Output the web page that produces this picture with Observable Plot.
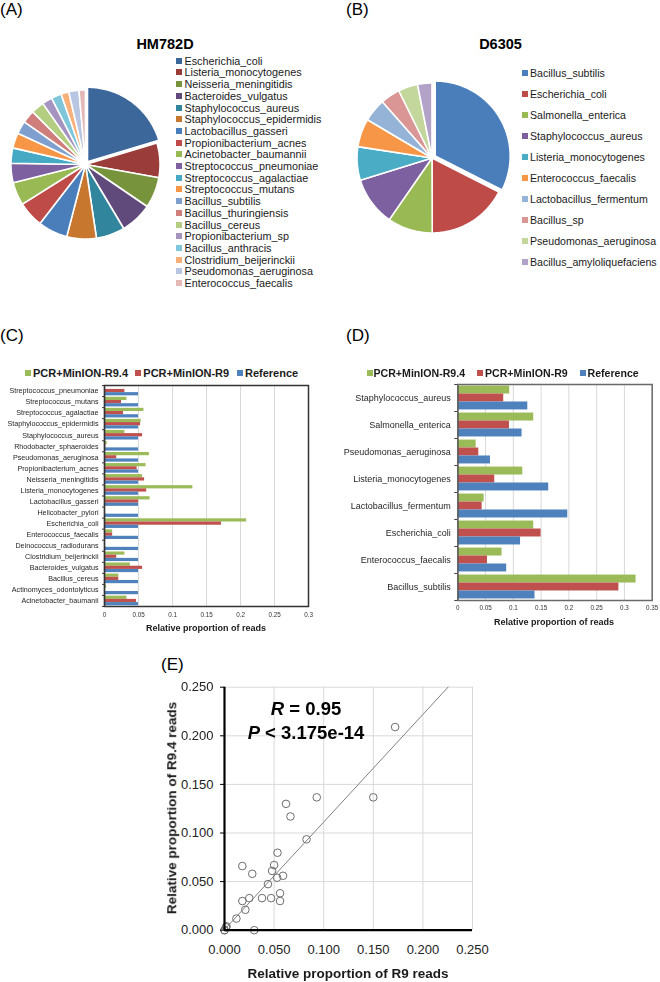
<!DOCTYPE html>
<html><head><meta charset="utf-8">
<script src="https://cdn.jsdelivr.net/npm/d3@7"></script>
<script src="https://cdn.jsdelivr.net/npm/@observablehq/plot@0.6"></script>
<style>
body{margin:0;background:#fff;}
#root{position:relative;width:660px;height:982px;overflow:hidden;background:#fff;font-family:"Liberation Sans",Arial,Helvetica,sans-serif;color:#000;}
#root div{white-space:nowrap;}
.gray-aa{will-change:transform;transform:translateZ(0);}
</style></head><body><div id="root"></div>
<script>
const FONT = '"Liberation Sans", Arial, Helvetica, sans-serif';

// ---------- Panel A (pie HM782D) ----------
const pieANames = ["Escherichia_coli","Listeria_monocytogenes","Neisseria_meningitidis","Bacteroides_vulgatus","Staphylococcus_aureus","Staphylococcus_epidermidis","Lactobacillus_gasseri","Propionibacterium_acnes","Acinetobacter_baumannii","Streptococcus_pneumoniae","Streptococcus_agalactiae","Streptococcus_mutans","Bacillus_subtilis","Bacillus_thuringiensis","Bacillus_cereus","Propionibacterium_sp","Bacillus_anthracis","Clostridium_beijerinckii","Pseudomonas_aeruginosa","Enterococcus_faecalis"];
const pieAValues = [20.3,7.5,6.7,6.9,6.2,6.4,6.4,5.6,5.0,4.2,3.3,3.3,2.8,2.8,2.8,2.2,2.2,1.7,2.2,1.4];
const pieAColors = ["#3C679A","#9A3D3A","#77933C","#604A7B","#31859C","#C8772F","#4A7EBB","#BE4B48","#98B954","#7D60A0","#46AAC5","#F79646","#7F9FCF","#D07E7C","#B3CE81","#A593C0","#7FC6DB","#F8B07A","#B8C6E2","#E3B8B7"];

// ---------- Panel B (pie D6305) ----------
const pieBNames = ["Bacillus_subtilis","Escherichia_coli","Salmonella_enterica","Staphylococcus_aureus","Listeria_monocytogenes","Enterococcus_faecalis","Lactobacillus_fermentum","Bacillus_sp","Pseudomonas_aeruginosa","Bacillus_amyloliquefaciens"];
const pieBValues = [32.5,17.5,9.7,10.6,7.2,6.1,5.0,4.2,4.2,3.1];
const pieBColors = ["#4A7EBB","#BE4B48","#98B954","#7D60A0","#4BACC6","#F79646","#95B3D7","#D99694","#C3D69B","#B3A2C7"];

// ---------- Bars: series ----------
const seriesNames = ["PCR+MinION-R9.4","PCR+MinION-R9","Reference"];
const seriesColors = ["#9BBB59","#C0504D","#4F81BD"];

// ---------- Panel C (top to bottom) ----------
const cCats = ["Streptococcus_pneumoniae","Streptococcus_mutans","Streptococcus_agalactiae","Staphylococcus_epidermidis","Staphylococcus_aureus","Rhodobacter_sphaeroides","Pseudomonas_aeruginosa","Propionibacterium_acnes","Neisseria_meningitidis","Listeria_monocytogenes","Lactobacillus_gasseri","Helicobacter_pylori","Escherichia_coli","Enterococcus_faecalis","Deinococcus_radiodurans","Clostridium_beijerinckii","Bacteroides_vulgatus","Bacillus_cereus","Actinomyces_odontolyticus","Acinetobacter_baumanii"];
const cR94 = [0,0.033,0.058,0.054,0.030,0.004,0.066,0.061,0.056,0.130,0.067,0,0.209,0.012,0,0.030,0.038,0.021,0.003,0.033];
const cR9  = [0.030,0.025,0.028,0.053,0.056,0.002,0.018,0.048,0.059,0.062,0.050,0,0.172,0.012,0,0.018,0.056,0.021,0.0015,0.047];
const cRef = [0.05,0.05,0.05,0.05,0.05,0.05,0.05,0.05,0.05,0.05,0.05,0.05,0.05,0.05,0.05,0.05,0.05,0.05,0.05,0.05];
const cTicks = [0,0.05,0.1,0.15,0.2,0.25,0.3];
const cTickLabels = ["0","0.05","0.1","0.15","0.2","0.25","0.3"];

// ---------- Panel D (top to bottom) ----------
const dCats = ["Staphylococcus_aureus","Salmonella_enterica","Pseudomonas_aeruginosa","Listeria_monocytogenes","Lactobacillus_fermentum","Escherichia_coli","Enterococcus_faecalis","Bacillus_subtilis"];
const dR94 = [0.0935,0.1367,0.033,0.117,0.0474,0.1367,0.0797,0.321];
const dR9  = [0.0827,0.093,0.0378,0.0665,0.0438,0.150,0.0534,0.290];
const dRef = [0.126,0.1157,0.0588,0.1637,0.198,0.113,0.088,0.139];
const dTicks = [0,0.05,0.1,0.15,0.2,0.25,0.3,0.35];
const dTickLabels = ["0","0.05","0.1","0.15","0.2","0.25","0.3","0.35"];

// ---------- Panel E ----------
const eTicks = [0,0.05,0.1,0.15,0.2,0.25];
const eTickLabels = ["0.000","0.050","0.100","0.150","0.200","0.250"];
const eFitSlope = 1.107;
const eFitIntercept = 0.0006;
const eFitRange = [0, 0.29];

const root = document.getElementById("root");
function place(node, left, top, w, h, cls) {
  const d = document.createElement("div");
  if (cls) d.className = cls;
  d.style.cssText = `position:absolute;left:${left}px;top:${top}px;width:${w}px;height:${h}px;`;
  d.appendChild(node);
  root.appendChild(d);
}
function txt(html, x, y, o = {}) {
  const d = document.createElement("div");
  const tx = o.anchor === "middle" ? "-50%" : o.anchor === "end" ? "-100%" : "0";
  d.innerHTML = html;
  d.style.cssText = `position:absolute;left:${x}px;top:${y}px;font-size:${o.size||11}px;font-weight:${o.weight||"normal"};line-height:1;color:${o.color||"#000"};transform:translate(${tx},-50%)${o.rotate?" rotate(-90deg)":""};`;
  root.appendChild(d);
}
function box(x, y, s, color) {
  const d = document.createElement("div");
  d.style.cssText = `position:absolute;left:${x}px;top:${y - s/2}px;width:${s}px;height:${s}px;background:${color};`;
  root.appendChild(d);
}

function pieChart(names, values, colors, explodeIndex, explodeAmt, size) {
  const arcs = d3.pie().sort(null).value(d => d)(values);
  const pts = [];
  arcs.forEach((a, i) => {
    const name = names[i];
    const mid = (a.startAngle + a.endAngle) / 2;
    const off = i === explodeIndex ? explodeAmt : 0;
    const ox = Math.sin(mid) * off, oy = Math.cos(mid) * off;
    pts.push({name, x: ox, y: oy});
    const n = Math.max(2, Math.ceil((a.endAngle - a.startAngle) / (Math.PI / 180)));
    for (let k = 0; k <= n; k++) {
      const t = a.startAngle + (a.endAngle - a.startAngle) * k / n;
      pts.push({name, x: ox + Math.sin(t), y: oy + Math.cos(t)});
    }
  });
  return Plot.plot({
    width: size, height: size, margin: 0,
    x: {domain: [-1.1, 1.1], axis: null}, y: {domain: [-1.1, 1.1], axis: null},
    color: {domain: names, range: colors},
    style: {overflow: "visible", background: "transparent"},
    marks: [Plot.line(pts, {x: "x", y: "y", z: "name", fill: "name", stroke: "white", strokeWidth: 1.6, curve: "linear-closed"})]
  });
}

function barChart(o) {
  const n = o.cats.length;
  const rows = [];
  o.cats.forEach((cat, i) => {
    [o.r94[i], o.r9[i], o.ref[i]].forEach((v, s) => {
      rows.push({cat, series: seriesNames[s], v, y1: i + o.off + s * o.bar, y2: i + o.off + (s + 1) * o.bar});
    });
  });
  return Plot.plot({
    width: o.width, height: o.height,
    marginLeft: o.ml, marginRight: o.mr, marginTop: o.mt, marginBottom: o.mb,
    x: {domain: [0, o.xMax], label: null},
    y: {domain: [n, 0], label: null},
    color: {domain: seriesNames, range: seriesColors},
    style: {fontFamily: FONT, color: "#333", background: "white", overflow: "visible"},
    marks: [
      Plot.gridX(o.ticks.slice(1), {stroke: "#d9d9d9", strokeOpacity: 1, strokeWidth: 1}),
      Plot.rectX(rows, {x: "v", y1: "y1", y2: "y2", fill: "series"}),
      Plot.axisY(d3.range(n + 1), {tickSize: o.tickSize, tickFormat: () => "", stroke: "#404040", fill: "#333"}),
      Plot.axisY(d3.range(n).map(i => i + 0.5), {tickSize: 0, tickPadding: o.labelPad, tickFormat: d => o.cats[Math.floor(d)], fontSize: o.labelSize, fill: "#262626"}),
      Plot.axisX(o.ticks, {tickSize: 0, tickPadding: o.xPad, tickFormat: d => o.tickLabels[o.ticks.indexOf(d)], fontSize: o.xSize, fill: "#333"}),
      Plot.ruleX([0], {stroke: "#222", strokeWidth: 1.2}),
      Plot.frame({stroke: o.frameColor, strokeWidth: 1.5})
    ]
  });
}

// ---- Panel labels and titles ----
txt("(A)", 0, 8.5, {size: 17});
txt("(B)", 346, 8.5, {size: 17});
txt("(C)", 0, 335, {size: 17});
txt("(D)", 346, 335, {size: 17});
txt("(E)", 161, 664, {size: 17});
txt("HM782D", 165, 43.5, {size: 14.5, weight: "bold", anchor: "middle"});
txt("D6305", 500.5, 43.5, {size: 14.5, weight: "bold", anchor: "middle"});

// ---- Pie A ----
place(pieChart(pieANames, pieAValues, pieAColors, 0, 0.045, 164), 85 - 82, 164 - 82, 164, 164);
pieANames.forEach((nm, i) => {
  const y = 60.7 + i * 11.7;
  box(176, y, 6, pieAColors[i]);
  txt(nm, 184.5, y, {size: 10.8, color: "#1a1a1a"});
});

// ---- Pie B ----
place(pieChart(pieBNames, pieBValues, pieBColors, 0, 0.05, 165), 431 - 82.5, 157 - 82.5, 165, 165);
pieBNames.forEach((nm, i) => {
  const y = 73.3 + i * 20.95;
  box(521.5, y, 6, pieBColors[i]);
  txt(nm, 530, y, {size: 10.6, color: "#1a1a1a"});
});

// ---- Panel C ----
place(barChart({cats: cCats, r94: cR94, r9: cR9, ref: cRef, xMax: 0.3, ticks: cTicks, tickLabels: cTickLabels,
  width: 330, height: 260, ml: 104, mr: 22, mt: 5, mb: 34, off: 0.065, bar: 0.29,
  tickSize: 2, labelPad: 6, labelSize: 7.2, xPad: 6, xSize: 6.3, frameColor: "#333"}), 0, 380, 330, 260, "gray-aa");
[[25, 33], [135, 143.3], [236.5, 245]].forEach(([bx, tx], s) => {
  box(bx, 372.7, 6, seriesColors[s]);
  txt(seriesNames[s], tx, 372.7, {size: 11, weight: "bold", color: "#1a1a1a"});
});
txt("Relative proportion of reads", 206, 628, {size: 9, weight: "bold", anchor: "middle", color: "#1a1a1a"});

// ---- Panel D ----
place(barChart({cats: dCats, r94: dR94, r9: dR9, ref: dRef, xMax: 0.35, ticks: dTicks, tickLabels: dTickLabels,
  width: 330, height: 250, ml: 127.3, mr: 8.3, mt: 6, mb: 28, off: 0.0575, bar: 0.295,
  tickSize: 3, labelPad: 7, labelSize: 9, xPad: 5, xSize: 6.3, frameColor: "#6a6a6a"}), 330, 378, 330, 250, "gray-aa");
[[366.7, 373.5], [476.7, 485], [580, 587.5]].forEach(([bx, tx], s) => {
  box(bx, 372.7, 6, seriesColors[s]);
  txt(seriesNames[s], tx, 372.7, {size: 10.6, weight: "bold", color: "#1a1a1a"});
});
txt("Relative proportion of reads", 554, 622, {size: 9, weight: "bold", anchor: "middle", color: "#1a1a1a"});

// ---- Panel E ----
const scatter = cCats.map((c, i) => ({name: c, r9: cR9[i], r94: cR94[i]}))
  .concat(dCats.map((c, i) => ({name: c, r9: dR9[i], r94: dR94[i]})))
  .filter(d => d.r9 <= 0.25 && d.r94 <= 0.25);
const fitPts = eFitRange.map(x => ({x, y: eFitIntercept + eFitSlope * x}));
place(Plot.plot({
  width: 330, height: 306, marginLeft: 74, marginRight: 8, marginTop: 10.7, marginBottom: 52.3,
  x: {domain: [0, 0.25], label: null}, y: {domain: [0, 0.25], label: null},
  style: {fontFamily: FONT, color: "#222", background: "transparent", overflow: "visible"},
  marks: [
    Plot.gridX(eTicks, {stroke: "#d9d9d9", strokeOpacity: 1}),
    Plot.gridY(eTicks, {stroke: "#d9d9d9", strokeOpacity: 1}),
    Plot.line(fitPts, {x: "x", y: "y", stroke: "#808080", strokeWidth: 1, clip: true}),
    Plot.dot(scatter, {x: "r9", y: "r94", r: 3.8, stroke: "#6e6e6e", strokeWidth: 1, fill: "none"}),
    Plot.axisX(eTicks, {tickSize: 0, tickPadding: 15, tickFormat: d => eTickLabels[eTicks.indexOf(d)], fontSize: 13, fill: "#222"}),
    Plot.axisY(eTicks, {tickSize: 4, tickPadding: 7, tickFormat: d => eTickLabels[eTicks.indexOf(d)], fontSize: 13, stroke: "#000", fill: "#222"}),
    Plot.ruleX([0], {stroke: "#000", strokeWidth: 2.2}),
    Plot.ruleY([0], {stroke: "#000", strokeWidth: 2.2})
  ]
}), 150, 676, 330, 306);
txt("Relative proportion of R9.4 reads", 172, 808, {size: 13.5, weight: "bold", anchor: "middle", rotate: true, color: "#1a1a1a"});
txt("Relative proportion of R9 reads", 348, 974, {size: 13.5, weight: "bold", anchor: "middle", color: "#1a1a1a"});
txt("<i>R</i> = 0.95", 306, 709.3, {size: 18.5, weight: "bold", anchor: "middle"});
txt("<i>P</i> &lt; 3.175e-14", 306, 733.3, {size: 18.5, weight: "bold", anchor: "middle"});
</script></body></html>
